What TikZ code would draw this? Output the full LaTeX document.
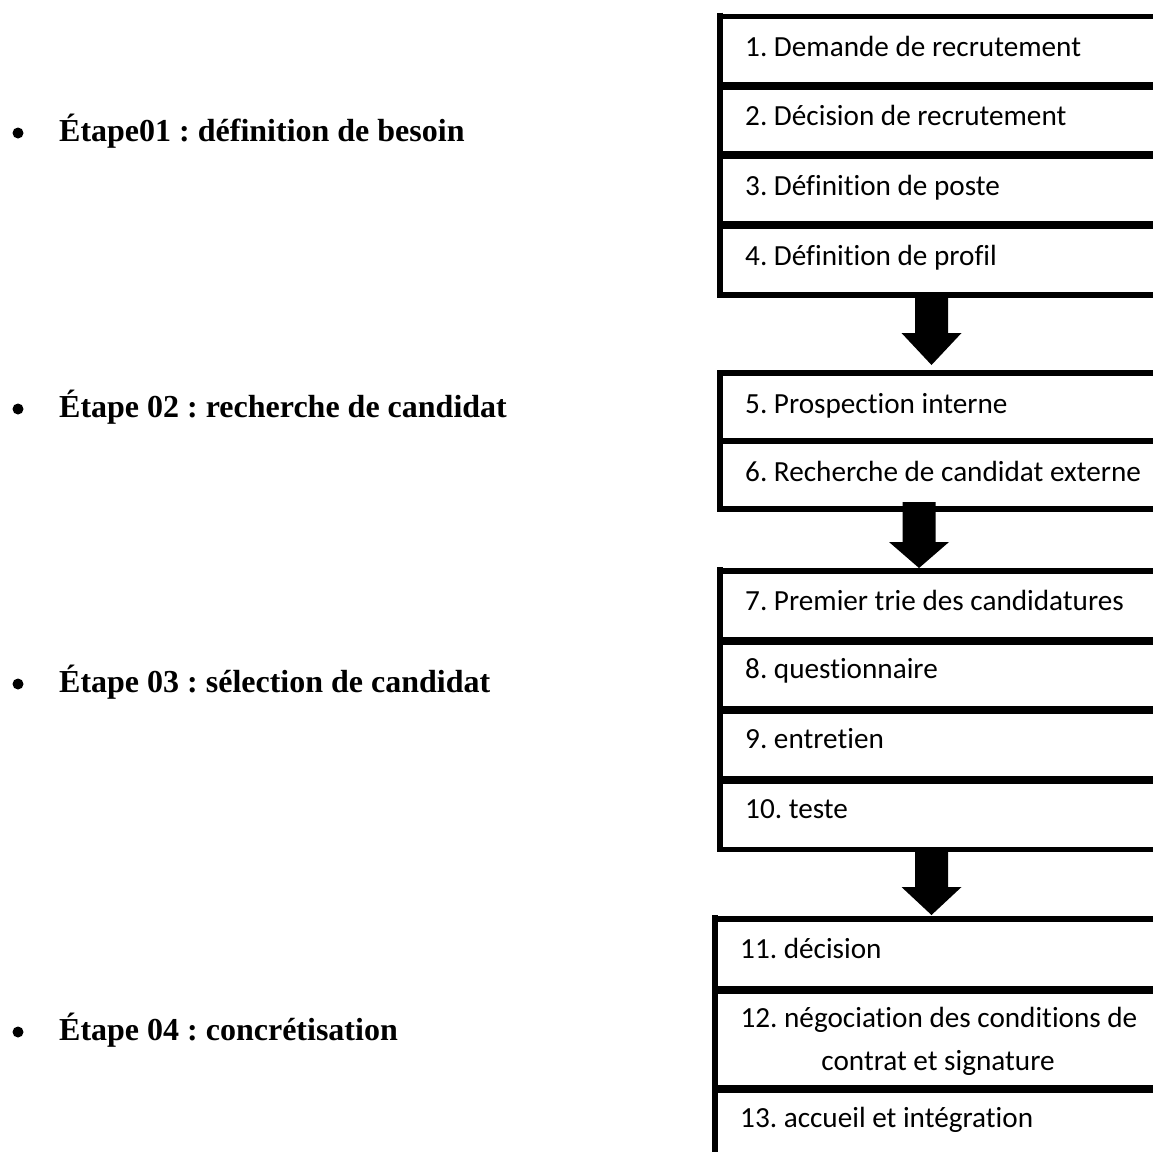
\documentclass[tikz,border=0pt]{standalone}
\usepackage{fontspec}
\setmainfont{Liberation Serif}
\newfontfamily\boxfont[Ligatures={NoCommon}]{Carlito}
\usetikzlibrary{calc}
\frenchspacing

\begin{document}
\begin{tikzpicture}[x=1pt,y=-1pt,
  outer/.style={line width=5.6pt},
  inner/.style={line width=8pt},
  thinsep/.style={line width=6pt},
  item/.style={anchor=base west, inner sep=0pt, font=\boxfont\fontsize{29.2}{43}\selectfont},
  itemc/.style={anchor=base, inner sep=0pt, font=\boxfont\fontsize{29.2}{43}\selectfont},
  stage/.style={anchor=base west, inner sep=0pt, font=\bfseries\fontsize{32}{38}\selectfont},
  dot/.style={circle, fill=black, minimum size=11pt, inner sep=0pt},
  blockarrow/.style={fill=black, line join=miter,
    to path={let \p1=(\tikztostart), \p2=(\tikztotarget) in
      (\x1-16.5pt,\y1) -- (\x1+16.5pt,\y1) -- (\x1+16.5pt,\y2+#1) --
      (\x1+30pt,\y2+#1) -- (\x2,\y2) -- (\x1-30pt,\y2+#1) --
      (\x1-16.5pt,\y2+#1) -- cycle}}
]
\useasboundingbox (0,0) rectangle (1153,1151);
\clip (0,0) rectangle (1153,1151);

% ---- stage labels on the left ----
\node[dot] (b1) at (18,133) {};
\node[stage] (s1) at (59,141) {Étape01 : définition de besoin};
\node[dot] (b2) at (18,409) {};
\node[stage] (s2) at (59,417) {Étape 02 : recherche de candidat};
\node[dot] (b3) at (18,684) {};
\node[stage] (s3) at (59,692) {Étape 03 : sélection de candidat};
\node[dot] (b4) at (18,1032) {};
\node[stage] (s4) at (59,1040) {Étape 04 : concrétisation};

% ---- group 1: steps 1-4 ----
\draw[outer] (720,12.5) -- (720,297.8);
\draw[outer] (717.2,16.3) -- (1160,16.3);
\draw[inner] (717.2,85.5) -- (1160,85.5);
\draw[inner] (717.2,154.7) -- (1160,154.7);
\draw[inner] (717.2,224.7) -- (1160,224.7);
\draw[outer] (717.2,295) -- (1160,295);
\node[item] (r1) at (745,56) {1. Demande de recrutement};
\node[item] (r2) at (745,125) {2. Décision de recrutement};
\node[item] (r3) at (745,195) {3. Définition de poste};
\node[item] (r4) at (745,265) {4. Définition de profil};

% ---- group 2: steps 5-6 ----
\draw[outer] (720,370.2) -- (720,511.8);
\draw[outer] (717.2,373) -- (1160,373);
\draw[thinsep] (717.2,441) -- (1160,441);
\draw[outer] (717.2,509) -- (1160,509);
\node[item] (r5) at (745,413) {5. Prospection interne};
\node[item] (r6) at (745,481) {6. Recherche de candidat externe};

% ---- group 3: steps 7-10 ----
\draw[outer] (720,567) -- (720,852.3);
\draw[outer] (717.2,571) -- (1160,571);
\draw[inner] (717.2,640.5) -- (1160,640.5);
\draw[inner] (717.2,709.5) -- (1160,709.5);
\draw[inner] (717.2,779.5) -- (1160,779.5);
\draw[outer] (717.2,849.5) -- (1160,849.5);
\node[item] (r7) at (745,610) {7. Premier trie des candidatures};
\node[item] (r8) at (745,678) {8. questionnaire};
\node[item] (r9) at (745,748) {9. entretien};
\node[item] (r10) at (745,818) {10. teste};

% ---- group 4: steps 11-13 ----
\draw[outer] (715,915) -- (715,1160);
\draw[outer] (712.2,919) -- (1160,919);
\draw[inner] (712.2,990) -- (1160,990);
\draw[inner] (712.2,1089) -- (1160,1089);
\node[item] (r11) at (740,958) {11. décision};
\node[itemc] (r12) at (939,1027) {12. négociation des conditions de};
\node[itemc] (r12b) at (938,1070) {contrat et signature};
\node[item] (r13) at (740,1127) {13. accueil et intégration};

% ---- block arrows between the groups ----
\coordinate (a1s) at (931.5,292);
\coordinate (a1e) at (931.5,365);
\coordinate (a2s) at (919,502);
\coordinate (a2e) at (919,568);
\coordinate (a3s) at (931.5,847);
\coordinate (a3e) at (931.5,915);
\path[blockarrow=32pt] (a1s) to (a1e);
\path[blockarrow=26pt] (a2s) to (a2e);
\path[blockarrow=28pt] (a3s) to (a3e);
\end{tikzpicture}
\end{document}
